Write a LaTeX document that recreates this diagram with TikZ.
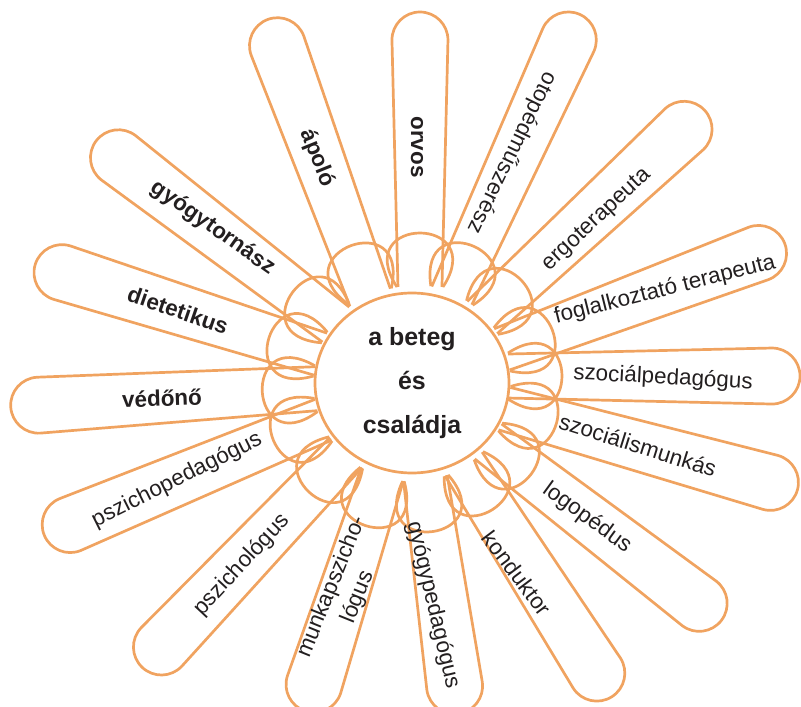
\documentclass[tikz,border=0pt]{standalone}
\usepackage{fontspec}
\setmainfont{Liberation Sans}
\usetikzlibrary{shapes.geometric}
\definecolor{morange}{RGB}{240,163,96}
\definecolor{mtext}{RGB}{35,31,32}

\begin{document}
\begin{tikzpicture}[x=1bp, y=1bp,
    petal/.style={morange, line width=2.7bp, line join=round},
    lab/.style={text=mtext, inner sep=0pt, align=center, font=\fontsize{22.5}{28}\selectfont},
    blab/.style={lab, font=\fontsize{22.5}{28}\selectfont\bfseries}]
  \useasboundingbox (-412, -324) rectangle (389, 383);
  \clip (-412, -324) rectangle (389, 383);

  \foreach \a/\l/\o in {110.2/391/9.8, 90/371/-8, 65.5/405/0, 43/400/0, 20.5/398/0, 0/388/7, -15.5/400/0, -37.5/390/0, -57.5/372/0, -82/334/0, -108/345/0, -133.5/392/0, -157.5/398/0, -176.6/402/0, 162.5/395/0, 142.5/398/0}
  {
    \draw [petal, rotate=\a, yshift=\o] (96, 22) -- ({\l-28}, 28) arc [start angle=90, end angle=-90, radius=28] -- (96, -22);
    \draw [petal, rotate=\a, yshift=\o] (96, -23) .. controls (168, -70) and (168, 70) .. (96, 23);
  }

  \node [ellipse, draw=morange, line width=2.7bp, fill=white, minimum width=194bp, minimum height=180bp,
    align=center, text=mtext, font=\fontsize{25}{44}\selectfont\bfseries] (beteg) at (0, 0) {a beteg\\és\\családja};

  \node [blab, rotate=-68] (apolo) at (-95, 225) {ápoló};
  \node [blab, rotate=-90] (orvos) at (5, 236) {orvos};
  \node [lab, rotate=-116] (ortoped) at (100, 230) {otopédműszerész};
  \node [lab, rotate=43] (ergo) at (185, 163) {ergoterapeuta};
  \node [lab, rotate=14] (foglalkoztato) at (253, 93) {foglalkoztató terapeuta};
  \node [lab, rotate=-3] (szocped) at (251, 5) {szociálpedagógus};
  \node [lab, rotate=-17.5] (szocmunkas) at (226, -62) {szociálismunkás};
  \node [lab, rotate=-36] (logopedus) at (175, -135) {logopédus};
  \node [lab, rotate=-53] (konduktor) at (105, -190) {konduktor};
  \node [lab, rotate=-76.6] (gyogyped) at (21, -222) {gyógypedagógus};
  \node [lab, rotate=68] (munkapszicho) at (-67, -209) {munkapszicho-\\lógus};
  \node [lab, rotate=47] (pszichologus) at (-170, -182) {pszichológus};
  \node [lab, rotate=26.5] (pszichoped) at (-235, -97) {pszichopedagógus};
  \node [blab, rotate=2] (vedono) at (-250, -15) {védőnő};
  \node [blab, rotate=-19] (dietetikus) at (-234, 73) {dietetikus};
  \node [blab, rotate=-35] (gyogytornasz) at (-199, 155) {gyógytornász};
\end{tikzpicture}
\end{document}
